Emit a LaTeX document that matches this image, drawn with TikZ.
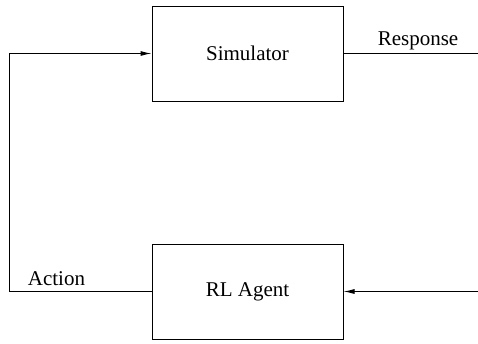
\documentclass[tikz,border=0pt]{standalone}
\usepackage{fontspec}
\setmainfont{Liberation Serif}
\usetikzlibrary{arrows.meta}
\begin{document}
\begin{tikzpicture}[x=1pt,y=-1pt,
  block/.style={draw,line width=1pt,minimum width=191pt,minimum height=95pt,inner sep=0pt,font=\fontsize{21}{24}\selectfont},
  wire/.style={line width=1pt},
  tip/.style={-{Latex[length=11pt,width=5pt]}},
  lbl/.style={anchor=base,inner sep=0pt,font=\fontsize{21}{24}\selectfont}]
  \useasboundingbox (0,0) rectangle (478,343);
  % the two blocks of the loop
  \node[block] (sim) at (247.5,53.5) {Simulator};
  \node[block] (agent) at (247.5,291.5) {RL Agent};
  % loose ends of the open lines
  \coordinate (resp) at (478,53.5);
  \coordinate (obs) at (478,291.5);
  \coordinate (lb) at (9,291.5);
  \coordinate (lt) at (9,53.5);
  % connectors
  \draw[wire] (sim.east) -- (resp);
  \draw[wire,tip] (obs) -- (agent.east);
  \draw[wire,tip] (agent.west) -- (lb) -- (lt) -- (sim.west);
  % labels on the lines
  \node[lbl] (rlabel) at (418,45) {Response};
  \node[lbl] (alabel) at (56.5,285) {Action};
\end{tikzpicture}
\end{document}
